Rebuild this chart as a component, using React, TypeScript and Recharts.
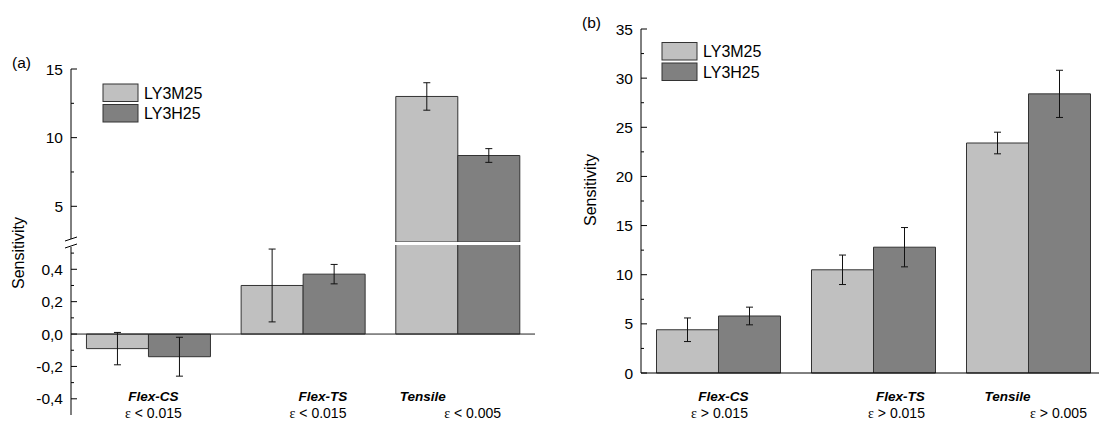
import React from 'react';
import { BarChart, Bar, XAxis, YAxis, ErrorBar, ReferenceLine } from 'recharts';

const FONT = '"Liberation Sans", Arial, sans-serif';
const SERIF = '"Liberation Serif", "Times New Roman", serif';

const categories = ['Flex-CS', 'Flex-TS', 'Tensile'];
const seriesNames = ['LY3M25', 'LY3H25'];
const seriesColors = ['#c0c0c0', '#808080'];

// (a) small strains
const strainA = ['ε < 0.015', 'ε < 0.015', 'ε < 0.005'];
const m25A = [-0.09, 0.3, 13.0];
const m25ErrA = [0.1, 0.225, 1.0];
const h25A = [-0.14, 0.37, 8.7];
const h25ErrA = [0.12, 0.06, 0.5];

// (b) large strains
const strainB = ['ε > 0.015', 'ε > 0.015', 'ε > 0.005'];
const m25B = [4.4, 10.5, 23.4];
const m25ErrB = [1.2, 1.5, 1.1];
const h25B = [5.8, 12.8, 28.4];
const h25ErrB = [0.9, 2.0, 2.4];

const ticksUpperA = [5, 7.5, 10, 12.5, 15];
const ticksLowerA = [-0.4, -0.3, -0.2, -0.1, 0, 0.1, 0.2, 0.3, 0.4, 0.5];
const ticksB = [0, 2.5, 5, 7.5, 10, 12.5, 15, 17.5, 20, 22.5, 25, 27.5, 30, 32.5, 35];

// broken axis of (a)
const UPPER_MIN = 2.4;
const LOWER_DOMAIN: [number, number] = [-0.5, 0.55];

const tableA = categories.map((cat, i) => ({
  cat,
  m25: m25A[i],
  m25Err: m25ErrA[i],
  h25: h25A[i],
  h25Err: h25ErrA[i],
}));
const upperA = tableA.map((d) => ({
  ...d,
  m25: d.m25 > UPPER_MIN ? d.m25 : null,
  m25Err: d.m25 > UPPER_MIN ? d.m25Err : null,
  h25: d.h25 > UPPER_MIN ? d.h25 : null,
  h25Err: d.h25 > UPPER_MIN ? d.h25Err : null,
}));
const tableB = categories.map((cat, i) => ({
  cat,
  m25: m25B[i],
  m25Err: m25ErrB[i],
  h25: h25B[i],
  h25Err: h25ErrB[i],
}));

// label nudges, as placed in the original figure
const nameDxA = [5, 20, -35];
const strainDxA = [5, 15, 15];
const nameDxB = [5, 27, -21];
const strainDxB = [1, 23, 30];

const YTick = ({ x, y, payload, isMajor, fmt }: any) => {
  const v = payload.value;
  const major = isMajor(v);
  return (
    <g>
      <line x1={x} x2={x + (major ? 6 : 3)} y1={y} y2={y} stroke="#000" />
      {major && (
        <text x={x - 8} y={y} dy="0.36em" textAnchor="end" fontSize={15.5} fontFamily={FONT} fill="#000">
          {fmt(v)}
        </text>
      )}
    </g>
  );
};

const CatTick = ({ x, y, payload, index, strains, nameDx, strainDx, nameDy, strainDy }: any) => {
  const s: string = strains[index];
  return (
    <g fontFamily={FONT} fill="#000">
      <text x={x + nameDx[index]} y={y + nameDy} textAnchor="middle" fontSize={13.5} fontWeight="bold" fontStyle="italic">
        {payload.value}
      </text>
      <text x={x + strainDx[index]} y={y + strainDy} textAnchor="middle" fontSize={14}>
        <tspan fontFamily={SERIF}>{s[0]}</tspan>
        {s.slice(1)}
      </text>
    </g>
  );
};

const commaFmt = (v: number) => v.toFixed(1).replace('.', ',');
const intFmt = (v: number) => String(v);

const bars = (keys: string[]) =>
  keys.map((k, i) => (
    <Bar key={k} dataKey={k} name={seriesNames[i]} fill={seriesColors[i]} stroke="#333" strokeWidth={1} isAnimationActive={false}>
      <ErrorBar dataKey={k + 'Err'} width={3.5} stroke="#111" strokeWidth={1} />
    </Bar>
  ));

const Legend = ({ x, y }: { x: number; y: number }) => (
  <g>
    {seriesNames.map((n, i) => (
      <g key={n}>
        <rect x={x} y={y + i * 20.5} width={35} height={17.5} fill={seriesColors[i]} stroke="#333" />
        <text x={x + 41} y={y + i * 20.5 + 14.5} fontSize={16} fontFamily={FONT} fill="#000">
          {n}
        </text>
      </g>
    ))}
  </g>
);

export default function App() {
  return (
    <div style={{ position: 'absolute', left: 0, top: 0, width: 1099, height: 421, overflow: 'hidden', background: '#fff' }}>
      {/* (a) upper part of broken axis */}
      <div style={{ position: 'absolute', left: 0, top: 0 }}>
        <BarChart width={560} height={421} data={upperA} margin={{ top: 69, right: 25, bottom: 179, left: 0 }} barCategoryGap="10%" barGap={0}>
          <XAxis dataKey="cat" hide />
          <YAxis
            width={71}
            domain={[UPPER_MIN, 15]}
            ticks={ticksUpperA}
            interval={0}
            allowDataOverflow
            axisLine={{ stroke: '#000' }}
            tickLine={false}
            tickSize={0}
            tickMargin={0}
            tick={(p: any) => <YTick {...p} isMajor={(v: number) => v % 5 === 0} fmt={intFmt} />}
          />
          {bars(['m25', 'h25'])}
        </BarChart>
      </div>
      {/* (a) lower part of broken axis */}
      <div style={{ position: 'absolute', left: 0, top: 0 }}>
        <BarChart width={560} height={421} data={tableA} margin={{ top: 245, right: 25, bottom: 0, left: 0 }} barCategoryGap="10%" barGap={0}>
          <XAxis
            dataKey="cat"
            height={6}
            axisLine={false}
            tickLine={false}
            tickSize={0}
            tickMargin={0}
            interval={0}
            tick={(p: any) => <CatTick {...p} strains={strainA} nameDx={nameDxA} strainDx={strainDxA} nameDy={-14} strainDy={3} />}
          />
          <YAxis
            width={71}
            domain={LOWER_DOMAIN}
            ticks={ticksLowerA}
            interval={0}
            allowDataOverflow
            axisLine={{ stroke: '#000' }}
            tickLine={false}
            tickSize={0}
            tickMargin={0}
            tick={(p: any) => <YTick {...p} isMajor={(v: number) => Math.round(v * 10) % 2 === 0} fmt={commaFmt} />}
          />
          {bars(['m25', 'h25'])}
          <ReferenceLine y={0} stroke="#222" />
        </BarChart>
      </div>
      {/* (b) */}
      <div style={{ position: 'absolute', left: 560, top: 0 }}>
        <BarChart width={560} height={421} data={tableB} margin={{ top: 29, right: 14, bottom: 0, left: 0 }} barCategoryGap="10%" barGap={0}>
          <XAxis
            dataKey="cat"
            height={48}
            axisLine={{ stroke: '#000' }}
            tickLine={false}
            tickSize={0}
            tickMargin={0}
            interval={0}
            tick={(p: any) => <CatTick {...p} strains={strainB} nameDx={nameDxB} strainDx={strainDxB} nameDy={28} strainDy={45} />}
          />
          <YAxis
            width={81}
            domain={[0, 35]}
            ticks={ticksB}
            interval={0}
            axisLine={{ stroke: '#000' }}
            tickLine={false}
            tickSize={0}
            tickMargin={0}
            tick={(p: any) => <YTick {...p} isMajor={(v: number) => v % 5 === 0} fmt={intFmt} />}
          />
          {bars(['m25', 'h25'])}
        </BarChart>
      </div>
      {/* annotations */}
      <svg width={1099} height={421} style={{ position: 'absolute', left: 0, top: 0, pointerEvents: 'none' }}>
        <text x={12} y={68} fontSize={15.5} fontFamily={FONT}>(a)</text>
        <text x={582} y={28} fontSize={15.5} fontFamily={FONT}>(b)</text>
        <text transform="translate(24,253) rotate(-90)" textAnchor="middle" fontSize={16} fontFamily={FONT}>Sensitivity</text>
        <text transform="translate(596,190) rotate(-90)" textAnchor="middle" fontSize={16} fontFamily={FONT}>Sensitivity</text>
        <rect x={69} y={239} width={4} height={8} fill="#fff" />
        <line x1={65} y1={241} x2={77} y2={237} stroke="#000" />
        <line x1={65} y1={248} x2={77} y2={244} stroke="#000" />
        <Legend x={103} y={84} />
        <Legend x={662} y={42.5} />
      </svg>
    </div>
  );
}
